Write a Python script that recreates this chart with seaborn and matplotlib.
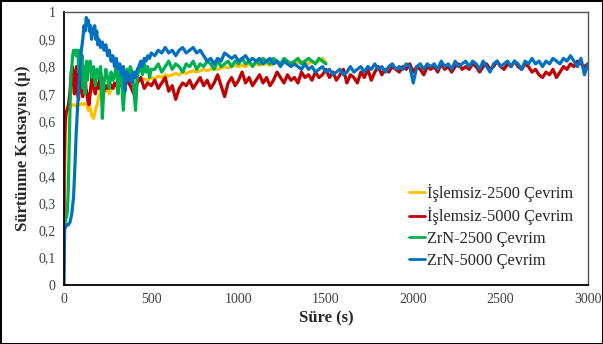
import numpy as np
import pandas as pd
import matplotlib
matplotlib.use("Agg")
import matplotlib.pyplot as plt
import seaborn as sns

# --- data (time in s, friction coefficient) ---
yellow_t_early = [0, 3, 6, 10, 15, 20, 30, 40, 50, 60, 70, 80, 90, 100, 110, 120, 130,
                  140, 150, 160, 170, 180, 190, 200, 210, 220, 230, 240, 250, 260, 270,
                  280, 290, 300]
yellow_v_early = [0.0, 0.28, 0.45, 0.58, 0.64, 0.655, 0.66, 0.655, 0.66, 0.66, 0.655, 0.66,
                  0.66, 0.665, 0.66, 0.665, 0.66, 0.64, 0.65, 0.62, 0.61, 0.64, 0.66, 0.69,
                  0.71, 0.70, 0.72, 0.71, 0.72, 0.70, 0.72, 0.73, 0.72, 0.74]
yellow_v_late = [0.73, 0.74, 0.745, 0.74, 0.75, 0.745, 0.75, 0.755, 0.75, 0.76,
                 0.755, 0.765, 0.76, 0.77, 0.765, 0.77, 0.775, 0.77, 0.78, 0.775,
                 0.78, 0.785, 0.78, 0.785, 0.79, 0.785, 0.79, 0.795, 0.79, 0.795,
                 0.80, 0.795, 0.80, 0.805, 0.80, 0.805, 0.80, 0.81, 0.805, 0.81,
                 0.805, 0.81, 0.81, 0.805, 0.81, 0.815, 0.81, 0.815, 0.81, 0.815,
                 0.81, 0.815, 0.82, 0.815, 0.81, 0.82, 0.815, 0.82, 0.83, 0.815]

red_t_early = [0, 2, 5, 8, 12, 18, 24, 30, 36, 42, 48, 54, 60, 66, 72, 78, 84, 90, 96,
               102, 108, 114, 120, 126, 132, 138, 144, 150, 160, 170, 180, 190, 200,
               210, 220, 230, 240, 250, 260, 270, 280, 290, 300]
red_v_early = [0.25, 0.45, 0.55, 0.60, 0.63, 0.64, 0.65, 0.68, 0.72, 0.78, 0.80, 0.74,
               0.70, 0.78, 0.80, 0.70, 0.68, 0.75, 0.80, 0.72, 0.69, 0.78, 0.80, 0.72,
               0.70, 0.67, 0.66, 0.70, 0.76, 0.72, 0.70, 0.74, 0.72, 0.78, 0.73, 0.71,
               0.73, 0.72, 0.74, 0.73, 0.72, 0.74, 0.73]
red_v_late = [0.74, 0.72, 0.75, 0.73, 0.70, 0.74, 0.76, 0.72, 0.74, 0.73,
              0.75, 0.72, 0.74, 0.76, 0.71, 0.73, 0.68, 0.72, 0.74, 0.73,
              0.75, 0.72, 0.74, 0.76, 0.73, 0.75, 0.72, 0.74, 0.77, 0.73,
              0.69, 0.74, 0.76, 0.73, 0.75, 0.78, 0.74, 0.76, 0.73, 0.75,
              0.77, 0.74, 0.76, 0.73, 0.75, 0.78, 0.76, 0.74, 0.77, 0.75,
              0.76, 0.74, 0.78, 0.76, 0.77, 0.75, 0.78, 0.76, 0.77, 0.79,
              0.76, 0.78, 0.75, 0.77, 0.79, 0.74, 0.77, 0.76, 0.74, 0.78,
              0.76, 0.79, 0.75, 0.78, 0.80, 0.77, 0.79, 0.78, 0.80, 0.79,
              0.78, 0.80, 0.79, 0.81, 0.78, 0.80, 0.79, 0.77, 0.80, 0.79,
              0.80, 0.78, 0.81, 0.79, 0.80, 0.78, 0.80, 0.81, 0.79, 0.80,
              0.79, 0.81, 0.80, 0.78, 0.80, 0.81, 0.79, 0.80, 0.82, 0.80,
              0.79, 0.81, 0.80, 0.82, 0.80, 0.79, 0.81, 0.80, 0.78, 0.79,
              0.77, 0.76, 0.78, 0.77, 0.79, 0.76, 0.78, 0.80, 0.79, 0.81,
              0.80, 0.82, 0.81, 0.80, 0.81]

green_t_early = [0, 5, 10, 15, 20, 25, 30, 35, 40, 45, 50, 55, 60, 65, 70, 75, 80, 85,
                 90, 95, 100, 105, 110, 115, 120, 125, 130, 135, 140, 150, 160, 170,
                 180, 190, 200, 210, 220, 230, 240, 250, 260, 270, 280, 290, 300, 310,
                 320, 330, 340, 350, 360, 370, 380, 390, 400, 410, 420, 430, 440, 450,
                 460, 470, 480, 490, 500]
green_v_early = [0.20, 0.22, 0.24, 0.25, 0.27, 0.35, 0.50, 0.65, 0.76, 0.80, 0.84, 0.86,
                 0.85, 0.86, 0.84, 0.86, 0.85, 0.78, 0.86, 0.85, 0.80, 0.84, 0.72, 0.80,
                 0.70, 0.78, 0.82, 0.75, 0.80, 0.82, 0.76, 0.80, 0.73, 0.79, 0.76, 0.80,
                 0.61, 0.74, 0.79, 0.76, 0.72, 0.78, 0.75, 0.77, 0.80, 0.70, 0.78, 0.76,
                 0.64, 0.74, 0.79, 0.77, 0.80, 0.78, 0.72, 0.64, 0.76, 0.79, 0.80, 0.77,
                 0.81, 0.78, 0.80, 0.76, 0.79]
green_v_late = [0.79, 0.81, 0.78, 0.80, 0.82, 0.79, 0.81, 0.80, 0.78, 0.81,
                0.80, 0.82, 0.79, 0.81, 0.80, 0.82, 0.81, 0.79, 0.82, 0.80,
                0.81, 0.82, 0.80, 0.82, 0.81, 0.83, 0.81, 0.82, 0.80, 0.82,
                0.81, 0.83, 0.82, 0.81, 0.83, 0.82, 0.81, 0.83, 0.82, 0.81,
                0.82, 0.83, 0.81, 0.82, 0.83, 0.82, 0.81, 0.83, 0.82, 0.81]

blue_t_early = [0, 2, 4, 8, 15, 25, 35, 45, 55, 62, 70, 78, 85, 92, 100, 108, 115, 122,
                128, 134, 140, 146, 152, 158, 164, 170, 176, 182, 188, 194, 200, 210,
                220, 230, 240, 250, 260, 270, 280, 290, 300, 310, 320, 330, 340, 350,
                360, 370, 380, 390, 400, 410, 420, 430, 440, 450, 460, 470, 480, 490, 500]
blue_v_early = [0.0, 0.10, 0.20, 0.21, 0.22, 0.22, 0.23, 0.26, 0.32, 0.42, 0.55, 0.65,
                0.72, 0.80, 0.86, 0.90, 0.95, 0.93, 0.98, 0.96, 0.97, 0.93, 0.95, 0.90,
                0.94, 0.92, 0.95, 0.90, 0.93, 0.88, 0.90, 0.87, 0.89, 0.86, 0.88, 0.84,
                0.86, 0.82, 0.84, 0.80, 0.83, 0.79, 0.81, 0.77, 0.80, 0.71, 0.78, 0.75,
                0.77, 0.74, 0.78, 0.76, 0.79, 0.80, 0.82, 0.80, 0.83, 0.82, 0.84, 0.83, 0.85]
blue_v_late = [0.84, 0.86, 0.85, 0.87, 0.85, 0.86, 0.84, 0.86, 0.87, 0.85,
               0.86, 0.87, 0.85, 0.86, 0.84, 0.82, 0.83, 0.81, 0.83, 0.82,
               0.85, 0.84, 0.83, 0.84, 0.82, 0.83, 0.84, 0.82, 0.83, 0.82,
               0.83, 0.81, 0.82, 0.83, 0.81, 0.82, 0.80, 0.82, 0.81, 0.80,
               0.81, 0.80, 0.79, 0.81, 0.79, 0.80, 0.78, 0.79, 0.80, 0.78,
               0.79, 0.77, 0.78, 0.79, 0.77, 0.78, 0.80, 0.78, 0.79, 0.80,
               0.78, 0.80, 0.79, 0.81, 0.79, 0.80, 0.78, 0.80, 0.81, 0.79,
               0.80, 0.79, 0.81, 0.80, 0.74, 0.80, 0.81, 0.79, 0.81, 0.80,
               0.81, 0.79, 0.82, 0.80, 0.81, 0.79, 0.82, 0.80, 0.81, 0.82,
               0.80, 0.82, 0.81, 0.79, 0.82, 0.80, 0.78, 0.81, 0.82, 0.80,
               0.81, 0.82, 0.80, 0.82, 0.81, 0.79, 0.82, 0.81, 0.83, 0.81,
               0.82, 0.80, 0.82, 0.81, 0.83, 0.82, 0.81, 0.83, 0.82, 0.84,
               0.82, 0.80, 0.83, 0.77, 0.81]

labels = ["İşlemsiz-2500 Çevrim", "İşlemsiz-5000 Çevrim", "ZrN-2500 Çevrim", "ZrN-5000 Çevrim"]
colors = ["#FFC000", "#C00000", "#00B050", "#0070C0"]
x_ticks = [0, 500, 1000, 1500, 2000, 2500, 3000]
y_ticks = [0, 0.1, 0.2, 0.3, 0.4, 0.5, 0.6, 0.7, 0.8, 0.9, 1]


def build(label, t_early, v_early, v_late):
    # late part is sampled every 20 s right after the early part
    start = t_early[-1] + 20
    t_late = [start + 20 * i for i in range(len(v_late))]
    return pd.DataFrame({"t": list(t_early) + t_late,
                         "mu": list(v_early) + list(v_late),
                         "seri": label})


df = pd.concat([
    build(labels[0], yellow_t_early, yellow_v_early, yellow_v_late),
    build(labels[1], red_t_early, red_v_early, red_v_late),
    build(labels[2], green_t_early, green_v_early, green_v_late),
    build(labels[3], blue_t_early, blue_v_early, blue_v_late),
], ignore_index=True)

sns.set_style("white")
plt.rcParams["font.family"] = ["Liberation Serif", "DejaVu Serif"]

fig = plt.figure(figsize=(6.03, 3.44), dpi=100)
fig.patch.set_edgecolor("black")
fig.patch.set_linewidth(2)
ax = fig.add_axes([0.106, 0.172, 0.869, 0.793])

sns.lineplot(data=df, x="t", y="mu", hue="seri", palette=colors, hue_order=labels,
             linewidth=2.3, estimator=None, sort=False, ax=ax)

ax.set_xlim(0, 3000)
ax.set_ylim(0, 1)
ax.set_xticks(x_ticks)
ax.set_yticks(y_ticks)
ax.set_yticklabels([("%g" % v).replace(".", ",") for v in y_ticks])
ax.tick_params(labelsize=10, colors="#404040", length=0, pad=6)
for s in ["top", "right"]:
    ax.spines[s].set_color("#555555")
    ax.spines[s].set_linewidth(1)
for s in ["left", "bottom"]:
    ax.spines[s].set_color("black")
    ax.spines[s].set_linewidth(1.3)

ax.set_xlabel("Süre (s)", fontsize=12, fontweight="bold", labelpad=3)
ax.set_ylabel("Sürtünme Katsayısı (µ)", fontsize=12, fontweight="bold", labelpad=5)

leg = ax.legend(loc="lower right", bbox_to_anchor=(1.0, 0.005), frameon=False,
                fontsize=11.8, handlelength=1.0, handletextpad=0.1, labelspacing=0.35)
for line in leg.get_lines():
    line.set_linewidth(2)

fig.savefig("out.png", dpi=100, edgecolor=fig.get_edgecolor())
